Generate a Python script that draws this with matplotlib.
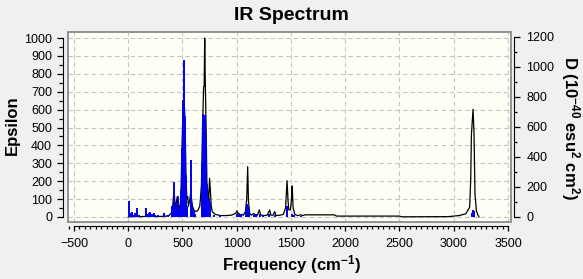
"""IR spectrum: broadened epsilon curve (left axis) plus stick intensities D (right axis)."""
import matplotlib

matplotlib.use("Agg")
import matplotlib.pyplot as plt
from matplotlib.patches import Rectangle
from matplotlib.ticker import MultipleLocator

plt.rcParams["font.family"] = ["Liberation Sans", "DejaVu Sans"]
plt.rcParams["mathtext.fontset"] = "custom"
plt.rcParams["mathtext.bf"] = "Liberation Sans:bold"
plt.rcParams["mathtext.rm"] = "Liberation Sans:bold"
plt.rcParams["mathtext.default"] = "bf"

# broadened spectrum (cm^-1, epsilon)
curve_freq = [
    0, 20, 60, 100, 150, 200, 250, 300, 350, 380, 400, 410, 418, 425, 432, 440,
    450, 458, 465, 475, 485, 495, 505, 512, 518, 525, 532, 540, 548, 555, 565,
    575, 583, 592, 605, 620, 640, 660, 675, 685, 695, 700, 705, 708, 712, 718,
    725, 735, 742, 750, 757, 765, 775, 800, 850, 900, 950, 990, 1003, 1010,
    1018, 1030, 1045, 1060, 1080, 1092, 1101, 1108, 1120, 1135, 1157, 1170,
    1190, 1209, 1220, 1250, 1280, 1304, 1315, 1335, 1350, 1362, 1400, 1430,
    1450, 1464, 1473, 1480, 1495, 1505, 1511, 1520, 1535, 1560, 1590, 1610,
    1630, 1900, 1920, 2500, 2520, 2950, 3050, 3111, 3147, 3157, 3163, 3178,
    3187, 3196, 3209, 3224, 3233,
]
curve_eps = [
    0, 2, 3, 2, 3, 4, 3, 3, 5, 10, 25, 60, 120, 130, 70, 60,
    110, 115, 60, 45, 100, 380, 600, 640, 620, 500, 250, 100, 114, 60, 90,
    130, 105, 60, 40, 30, 35, 60, 180, 500, 728, 730, 1000, 855, 700, 500,
    200, 120, 100, 216, 150, 60, 30, 15, 8, 8, 10, 20, 35, 15,
    22, 10, 15, 10, 30, 100, 281, 90, 20, 10, 20, 8,
    10, 39, 12, 8, 10, 39, 10, 10, 30, 8, 10, 15,
    50, 203, 90, 40, 40, 100, 174, 50, 15, 8, 12, 8,
    12, 12, 5, 5, 1, 2, 8, 18, 55, 215, 458, 602,
    472, 130, 34, 10, 0,
]

# stick intensities (cm^-1, D in 1e-40 esu^2 cm^2)
stick_freq = [
    5, 15, 25, 35, 45, 60, 80, 95,
    160, 175, 190, 205, 220, 235, 250, 270,
    330, 370,
    405, 418, 425, 432, 445, 458, 470,
    490, 497, 505, 510, 517, 523, 530, 540,
    575, 585, 605, 620,
    680, 688, 695, 700, 706, 712, 720, 730, 745, 752,
    790, 850,
    1003, 1020, 1040, 1085, 1095, 1105, 1110, 1160, 1180, 1210, 1240,
    1300, 1350, 1460, 1468, 1510, 1530, 1590,
    3170, 3178, 3185, 3190,
]
stick_d = [
    102, 24, 18, 30, 14, 24, 58, 14,
    60, 18, 24, 30, 18, 24, 12, 10,
    24, 10,
    72, 234, 162, 84, 72, 132, 54,
    180, 456, 780, 672, 1044, 672, 276, 72,
    376, 72, 48, 18,
    360, 684, 480, 672, 678, 672, 516, 216, 120, 96,
    12, 10,
    18, 12, 18, 48, 84, 72, 54, 12, 18, 18, 12,
    18, 14, 72, 54, 18, 12, 6,
    24, 48, 36, 18,
]

fig = plt.figure(figsize=(5.83, 2.79), dpi=100, facecolor="#f0f0f0")
ax = fig.add_axes([68 / 583, 57 / 279, 443 / 583, 190 / 279])
ax.set_facecolor("#fffff6")
ax.set_xlim(-555, 3528)
ax.set_ylim(-28, 1034)

# grey frame round the plot area, tick spines sit just outside it
ax.add_patch(Rectangle((0, 0), 1, 1, transform=ax.transAxes, fill=False,
                       edgecolor="#8a8a8a", linewidth=1.3, clip_on=False, zorder=5))
for side in ["top", "right"]:
    ax.spines[side].set_visible(False)
ax.spines["left"].set_position(("outward", 3.6))
ax.spines["bottom"].set_position(("outward", 2.9))
ax.spines["left"].set_bounds(0, 1000)
ax.spines["bottom"].set_bounds(-500, 3500)

ax.xaxis.set_major_locator(MultipleLocator(500))
ax.xaxis.set_minor_locator(MultipleLocator(50))
ax.yaxis.set_major_locator(MultipleLocator(100))
ax.yaxis.set_minor_locator(MultipleLocator(50))
ax.tick_params(which="major", length=4.3, width=0.9, labelsize=9)
ax.tick_params(which="minor", length=2.6, width=0.9)
ax.tick_params(axis="x", which="major", length=3.6, pad=5)
ax.tick_params(axis="x", which="minor", length=2.4)
ax.tick_params(axis="y", pad=3.6)
ax.grid(True, which="major", color="#c4c4c4", linestyle=(0, (4, 3)), linewidth=0.8)
ax.set_axisbelow(True)

ax.plot(curve_freq, curve_eps, color="black", linewidth=0.9, zorder=2)

ax2 = ax.twinx()
ax2.set_ylim(-35, 1232)
for side in ["top", "left", "bottom"]:
    ax2.spines[side].set_visible(False)
ax2.spines["right"].set_position(("outward", 2.2))
ax2.spines["right"].set_bounds(0, 1200)
ax2.yaxis.set_major_locator(MultipleLocator(200))
ax2.yaxis.set_minor_locator(MultipleLocator(100))
ax2.tick_params(which="major", length=4.6, width=0.9, labelsize=9, pad=4.3)
ax2.tick_params(which="minor", length=2.4, width=0.9)
ax2.vlines(stick_freq, 0, stick_d, color="#0000ee", linewidth=1.4, zorder=3)

fig.text(291 / 583, 1 - 20 / 279, "IR Spectrum", fontsize=14, fontweight="bold",
         ha="center", va="baseline")
fig.text(12 / 583, 1 - 125 / 279, "Epsilon", fontsize=12, fontweight="bold",
         rotation=90, ha="center", va="center")
fig.text(291 / 583, 1 - 270 / 279, r"Frequency (cm$^{-1}$)", fontsize=12,
         fontweight="bold", ha="center", va="baseline")
fig.text(570 / 583, 1 - 128 / 279,
         r"D (10$^{-40}$ esu$^{2}$ cm$^{2}$)", fontsize=12, fontweight="bold",
         rotation=270, ha="center", va="center")

fig.savefig("out.png", dpi=100, facecolor=fig.get_facecolor())
